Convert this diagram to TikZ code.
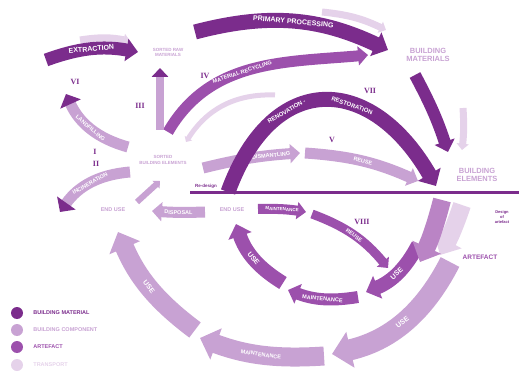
\documentclass[tikz,border=0pt]{standalone}
\usepackage{fontspec}
\setmainfont{Liberation Sans}
\newfontfamily\romanfont{Liberation Serif}
\usetikzlibrary{arrows.meta,positioning}

\definecolor{matcol}{HTML}{7B2C8C}
\definecolor{compcol}{HTML}{C8A2D3}
\definecolor{artcol}{HTML}{9C50AC}
\definecolor{transcol}{HTML}{E5D2EA}

\tikzset{
  bandtip/.style={-{Triangle[length=0pt 0.9,width=0pt 1.7]}},
  matband/.style={draw=matcol, line width=#1, bandtip}, matband/.default=11pt,
  compband/.style={draw=compcol, line width=#1, bandtip}, compband/.default=11pt,
  artband/.style={draw=artcol, line width=#1, bandtip}, artband/.default=11pt,
  transband/.style={draw=transcol, line width=#1, bandtip}, transband/.default=7pt,
  bandtext/.style={sloped, text=white, font=\bfseries\fontsize{5.5}{6}\selectfont, inner sep=0pt},
  bigtext/.style={bandtext, font=\bfseries\fontsize{7}{7}\selectfont},
  stage/.style={font=\bfseries\fontsize{6.5}{7}\selectfont, text=compcol, align=center, inner sep=1pt},
  numeral/.style={font=\romanfont\bfseries\fontsize{8}{8}\selectfont, text=matcol},
  legdot/.style={circle, minimum size=12pt, inner sep=0pt},
  legtext/.style={font=\bfseries\fontsize{5.5}{6}\selectfont, inner sep=0pt}
}

\begin{document}
\begin{tikzpicture}[x=1pt,y=1pt]
\useasboundingbox (0,0) rectangle (519,-374);

% stages
\node[stage, font=\bfseries\fontsize{4.5}{5}\selectfont] (srm) at (168,-52) {SORTED RAW\\MATERIALS};
\node[stage, font=\bfseries\fontsize{7.5}{8.5}\selectfont] (bm) at (428,-55) {BUILDING\\MATERIALS};
\node[stage, font=\bfseries\fontsize{4.5}{5.5}\selectfont] (sbe) at (163,-160) {SORTED\\BUILDING ELEMENTS};
\node[stage, font=\bfseries\fontsize{7.5}{8.5}\selectfont] (be) at (477,-175) {BUILDING\\ELEMENTS};
\node[stage, font=\bfseries\fontsize{5.5}{6}\selectfont] (eul) at (113,-210) {END USE};
\node[stage, font=\bfseries\fontsize{5.5}{6}\selectfont] (eur) at (232,-210) {END USE};
\node[stage, text=artcol, font=\bfseries\fontsize{6.5}{7}\selectfont] (art) at (480,-257) {ARTEFACT};
\node[text=matcol, font=\bfseries\fontsize{4.5}{5}\selectfont, inner sep=0pt] (redesign) at (206,-186) {Re-design};
\node[text=matcol, align=center, font=\bfseries\fontsize{4}{5}\selectfont, inner sep=0pt] (design) at (502,-217) {Design\\of\\artefact};

% roman numerals
\node[numeral] (n6) at (75,-82) {VI};
\node[numeral] (n3) at (140,-106) {III};
\node[numeral] (n4) at (205,-76) {IV};
\node[numeral] (n7) at (370,-91) {VII};
\node[numeral] (n5) at (332,-140) {V};
\node[numeral] (n1) at (95,-152) {I};
\node[numeral] (n2) at (96,-164) {II};
\node[numeral] (n8) at (362,-222) {VIII};

% band end points
\coordinate (ext1) at (46,-60);
\coordinate (ext2) at (138,-52);
\coordinate (trx1) at (80,-40);
\coordinate (trx2) at (130,-41);
\coordinate (pp1) at (195,-32);
\coordinate (pp2) at (388,-50);
\coordinate (trp1) at (322,-12);
\coordinate (trp2) at (386,-30);
\coordinate (rec1) at (168,-132);
\coordinate (rec2) at (368,-55);
\coordinate (up1) at (160,-130);
\coordinate (up2) at (160,-68);
\coordinate (lf1) at (128,-147);
\coordinate (lf2) at (66,-94);
\coordinate (inc1) at (130,-172);
\coordinate (inc2) at (60,-212);
\coordinate (ret1) at (137,-202);
\coordinate (ret2) at (160,-181);
\coordinate (dsp1) at (205,-212);
\coordinate (dsp2) at (152,-211);
\coordinate (trb1) at (275,-95);
\coordinate (trb2) at (186,-142);
\coordinate (ren1) at (228,-192);
\coordinate (ren2) at (436,-186);
\coordinate (dis1) at (203,-168);
\coordinate (dis2) at (300,-153);
\coordinate (reu1) at (305,-153);
\coordinate (reu2) at (418,-181);
\coordinate (mb1) at (415,-75);
\coordinate (mb2) at (448,-152);
\coordinate (trm1) at (463,-108);
\coordinate (trm2) at (462,-150);
\coordinate (lineL) at (190,-193);
\coordinate (lineR) at (519,-193);
\coordinate (dsa1) at (442,-200);
\coordinate (dsa2) at (420,-262);
\coordinate (trd1) at (462,-205);
\coordinate (trd2) at (440,-255);
\coordinate (mt1) at (258,-209);
\coordinate (mt2) at (306,-212);
\coordinate (rv1) at (312,-214);
\coordinate (rv2) at (388,-268);
\coordinate (use1a) at (418,-245);
\coordinate (use1b) at (366,-292);
\coordinate (mnt1a) at (358,-297);
\coordinate (mnt1b) at (288,-290);
\coordinate (use2a) at (283,-283);
\coordinate (use2b) at (236,-224);
\coordinate (use3a) at (450,-262);
\coordinate (use3b) at (332,-354);
\coordinate (mnt2a) at (324,-356);
\coordinate (mnt2b) at (200,-338);
\coordinate (use4a) at (195,-330);
\coordinate (use4b) at (118,-232);

% outer use loop
\draw[compband=21pt] (use3a) to[bend left=25] node[bigtext]{USE} (use3b);
\draw[compband=19pt] (mnt2a) to[bend left=12] node[bandtext]{MAINTENANCE} (mnt2b);
\draw[compband=19pt] (use4a) to[bend left=15] node[bigtext]{USE} (use4b);

% inner use loop
\draw[artband=14pt] (use1a) to[bend left=20] node[bigtext]{USE} (use1b);
\draw[artband=12pt] (mnt1a) to[bend left=15] node[bandtext]{MAINTENANCE} (mnt1b);
\draw[artband=14pt] (use2a) to[bend left=20] node[bigtext]{USE} (use2b);
\draw[artband=10pt] (mt1) to[bend left=5] node[bandtext, font=\bfseries\fontsize{4.5}{5}\selectfont]{MAINTENANCE} (mt2);
\draw[artband=9pt] (rv1) to[bend left=15] node[bandtext]{REUSE} (rv2);

% extraction and processing
\draw[transband] (trx1) to[bend left=10] (trx2);
\draw[matband=13pt] (ext1) to[bend left=15] node[bigtext]{EXTRACTION} (ext2);
\draw[transband] (trp1) to[bend left=10] (trp2);
\draw[matband=15pt] (pp1) to[bend left=20] node[bigtext]{PRIMARY PROCESSING} (pp2);
\draw[artband=11pt] (rec1) to[out=60,in=185] node[bandtext, pos=0.45]{MATERIAL RECYCLING} (rec2);
\draw[compband=8pt, -{Triangle[length=0pt 1.1,width=0pt 2,color=matcol]}] (up1) -- (up2);
\draw[transband] (trm1) to[bend left=5] (trm2);
\draw[matband=12pt] (mb1) to[bend left=5] (mb2);

% left side
\draw[compband=11pt, -{Triangle[length=0pt 1,width=0pt 2,color=matcol]}] (lf1) to[bend left=25] node[bandtext]{LANDFILLING} (lf2);
\draw[compband=11pt, -{Triangle[length=0pt 1,width=0pt 2,color=matcol]}] (inc1) to[bend right=25] node[bandtext]{INCINERATION} (inc2);
\draw[compband=6pt] (ret1) -- (ret2);
\draw[compband=11pt] (dsp1) to[bend left=3] node[bandtext]{DISPOSAL} (dsp2);
\draw[transband=5pt] (trb1) to[bend right=30] (trb2);

% reuse and renovation
\draw[compband=11pt] (dis1) to[bend left=5] node[bandtext, pos=0.72]{DISMANTLING} (dis2);
\draw[compband=11pt] (reu1) to[bend left=10] node[bandtext]{REUSE} (reu2);
\draw[matband=15pt] (ren1) to[out=70,in=120,looseness=1.6]
  node[bandtext, pos=0.33, font=\bfseries\fontsize{6}{6}\selectfont]{RENOVATION -}
  node[bandtext, pos=0.62, font=\bfseries\fontsize{6}{6}\selectfont]{RESTORATION} (ren2);

% design line
\draw[matcol, line width=3pt] (lineL) -- (lineR);
\draw[transband=18pt] (trd1) to[bend left=5] (trd2);
\draw[compband=18pt, draw=artcol!70] (dsa1) to[bend left=5] (dsa2);

% legend
\node[legdot, fill=matcol] (dmat) at (17,-313) {};
\node[legdot, fill=compcol] (dcomp) at (17,-330) {};
\node[legdot, fill=artcol] (dart) at (17,-347) {};
\node[legdot, fill=transcol] (dtrans) at (17,-365) {};
\node[legtext, text=matcol, right=10pt of dmat] (tmat) {BUILDING MATERIAL};
\node[legtext, text=compcol, right=10pt of dcomp] (tcomp) {BUILDING COMPONENT};
\node[legtext, text=artcol, right=10pt of dart] (tart) {ARTEFACT};
\node[legtext, text=transcol, right=10pt of dtrans] (ttrans) {TRANSPORT};

\end{tikzpicture}
\end{document}
